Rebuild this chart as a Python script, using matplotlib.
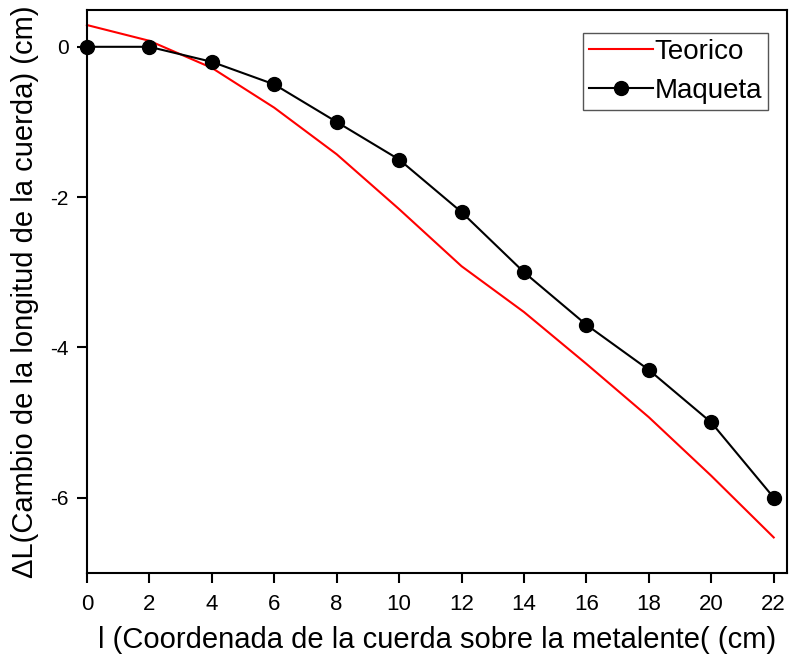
import numpy as np
import matplotlib.pyplot as plt

plt.rcParams['font.family'] = ['Liberation Sans', 'DejaVu Sans']
plt.rcParams['axes.unicode_minus'] = False

# ------------------ DATA ------------------
x = [0, 2, 4, 6, 8, 10, 12, 14, 16, 18, 20, 22]
teorico = [0.29, 0.08, -0.28, -0.81, -1.43, -2.16, -2.92, -3.53, -4.22, -4.93, -5.71, -6.53]
maqueta = [0, 0, -0.2, -0.5, -1.0, -1.5, -2.2, -3.0, -3.7, -4.3, -5.0, -6.0]

# ------------------ PLOT ------------------
fig = plt.figure(figsize=(7.9, 6.66), dpi=100)
ax = fig.add_axes([0.110, 0.14, 0.886, 0.845])

ax.plot(x, teorico, color='red', lw=1.5, label='Teorico', clip_on=False)
ax.plot(x, maqueta, color='black', lw=1.5, marker='o', ms=10,
        label='Maqueta', clip_on=False, zorder=3)

ax.set_xlim(0, 22.42)
ax.set_ylim(-7, 0.49)
ax.set_xticks(range(0, 23, 2))
ax.set_yticks([-6, -4, -2, 0])

for s in ax.spines.values():
    s.set_linewidth(1.5)
ax.tick_params(direction='out', length=7, width=1.5)
ax.tick_params(axis='x', labelsize=16, pad=8)
ax.tick_params(axis='y', labelsize=15, pad=6)

ax.set_xlabel('l (Coordenada de la cuerda sobre la metalente( (cm)', fontsize=21, labelpad=8)
ax.set_ylabel('ΔL(Cambio de la longitud de la cuerda) (cm)', fontsize=21, labelpad=8)

leg = ax.legend(loc='upper right', fontsize=20, fancybox=False, edgecolor='#555555',
                framealpha=1, handlelength=2.3, handletextpad=0.05, borderpad=0.22,
                borderaxespad=0, labelspacing=0.45, bbox_to_anchor=(0.973, 0.959))
leg.get_frame().set_linewidth(1.0)

plt.savefig('out.png', dpi=100)
